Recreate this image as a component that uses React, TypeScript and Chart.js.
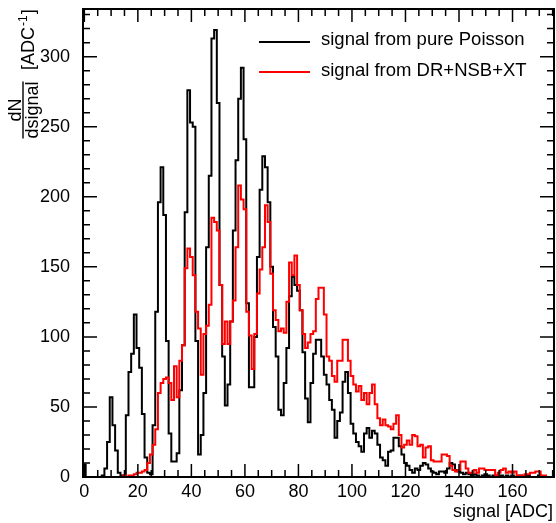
import React, { useEffect, useRef } from "react";
import { Chart, registerables } from "chart.js";

Chart.register(...registerables);

// ---- axis ranges & ticks ----
const X_MIN = -0.5;
const X_MAX = 175.5;
const Y_MIN = 0;
const Y_MAX = 334;
const xTickValues = [0, 20, 40, 60, 80, 100, 120, 140, 160];
const yTickValues = [0, 50, 100, 150, 200, 250, 300];

// ---- series labels ----
const seriesPoisson = "signal from pure Poisson";
const seriesFull = "signal from DR+NSB+XT";
const xTitle = "signal [ADC]";

// ---- histogram contents, one value per 1-ADC bin (bin k centred on k) ----
const poissonCounts = [
  9, 0, 0, 0, 0, 0, 0, 1, 6, 25, 57, 37, 19, 3, 1, 0, 44, 75, 88, 116,
  92, 78, 45, 14, 3, 2, 37, 118, 196, 221, 187, 97, 31, 11, 11, 17, 62, 94, 189, 276,
  253, 250, 97, 16, 30, 60, 164, 215, 313, 319, 267, 137, 86, 51, 66, 111, 176, 226, 270, 292,
  241, 124, 64, 64, 100, 157, 205, 229, 221, 196, 150, 107, 86, 48, 44, 67, 92, 129, 143, 137,
  133, 119, 89, 56, 39, 67, 88, 98, 98, 86, 73, 66, 55, 48, 28, 40, 46, 68, 75, 60,
  38, 31, 25, 22, 18, 31, 35, 28, 33, 31, 23, 14, 12, 8, 18, 19, 28, 28, 22, 16,
  10, 8, 5, 3, 6, 5, 8, 10, 9, 6, 4, 3, 2, 4, 4, 3, 6, 10, 9, 5,
  4, 3, 2, 3, 2, 1, 2, 1, 0, 1, 2, 1, 0, 1, 1, 0, 1, 0, 1, 0,
  1, 0, 0, 1, 0, 0, 1, 0, 0, 0, 1, 0, 0, 0, 0, 0,
];

const fullCounts = [
  0, 0, 0, 0, 0, 0, 0, 0, 0, 0, 0, 0, 0, 0, 0, 1, 0, 1, 1, 2,
  3, 3, 4, 5, 10, 16, 23, 34, 60, 67, 70, 71, 67, 55, 79, 57, 83, 94, 149, 163,
  157, 144, 118, 106, 73, 102, 108, 123, 185, 182, 176, 137, 95, 111, 95, 111, 126, 164, 208, 198,
  191, 118, 101, 77, 102, 131, 148, 164, 194, 182, 145, 119, 112, 104, 106, 103, 125, 153, 144, 158,
  137, 119, 102, 92, 96, 102, 104, 127, 135, 135, 116, 86, 83, 72, 68, 83, 83, 98, 98, 83,
  72, 66, 61, 65, 55, 60, 52, 60, 66, 52, 42, 37, 41, 37, 36, 34, 38, 44, 30, 21,
  23, 26, 23, 30, 29, 22, 23, 14, 21, 22, 12, 11, 11, 11, 16, 16, 15, 8, 5, 4,
  5, 11, 11, 6, 3, 3, 5, 3, 6, 6, 5, 5, 5, 5, 1, 3, 5, 6, 3, 4,
  3, 4, 1, 1, 1, 2, 2, 3, 3, 4, 4, 1, 1, 0, 0, 0,
];

const FONT = '"Liberation Sans", Arial, Helvetica, sans-serif';

function toSteps(counts: number[]) {
  const pts: { x: number; y: number }[] = [{ x: X_MIN, y: 0 }];
  counts.forEach((c, i) => pts.push({ x: i - 0.5, y: c }));
  pts.push({ x: counts.length - 0.5, y: 0 });
  return pts;
}

const rootStylePlugin = {
  id: "rootStyle",
  afterDraw(chart: any) {
    const { ctx, chartArea: a, scales } = chart;
    const xs = scales.x;
    const ys = scales.y;
    ctx.save();
    ctx.strokeStyle = "#000";
    ctx.fillStyle = "#000";

    // inward ticks on all four sides
    ctx.lineWidth = 1.5;
    ctx.beginPath();
    for (let v = 0; v <= X_MAX; v += 5) {
      const px = xs.getPixelForValue(v);
      const len = v % 20 === 0 ? 13 : 7;
      ctx.moveTo(px, a.bottom);
      ctx.lineTo(px, a.bottom - len);
      ctx.moveTo(px, a.top);
      ctx.lineTo(px, a.top + len);
    }
    for (let v = 0; v <= Y_MAX; v += 10) {
      const py = ys.getPixelForValue(v);
      const len = v % 50 === 0 ? 14 : 7;
      ctx.moveTo(a.left, py);
      ctx.lineTo(a.left + len, py);
      ctx.moveTo(a.right, py);
      ctx.lineTo(a.right - len, py);
    }
    ctx.stroke();

    // frame
    ctx.lineWidth = 2;
    ctx.strokeRect(a.left, a.top, a.right - a.left, a.bottom - a.top);

    // x title (right aligned)
    ctx.font = `18px ${FONT}`;
    ctx.textAlign = "right";
    ctx.textBaseline = "alphabetic";
    ctx.fillText(xTitle, a.right - 1, 517);

    // y title: dN/dsignal [ADC^-1], rotated
    ctx.save();
    ctx.translate(23, 110);
    ctx.rotate(-Math.PI / 2);
    ctx.font = `18px ${FONT}`;
    ctx.textAlign = "center";
    ctx.fillText("dN", 0, -2);
    ctx.fillText("dsignal", 0, 15);
    const w = ctx.measureText("dsignal").width;
    ctx.fillRect(-w / 2, -0.7, w, 1.4);
    ctx.textAlign = "left";
    let u = 40;
    ctx.fillText("[ADC", u, 11);
    u += ctx.measureText("[ADC").width;
    ctx.font = `12px ${FONT}`;
    ctx.fillText("-1", u + 1, 4);
    u += ctx.measureText("-1").width + 2;
    ctx.font = `18px ${FONT}`;
    ctx.fillText("]", u, 11);
    ctx.restore();

    // legend
    ctx.lineWidth = 2;
    ctx.strokeStyle = "#000";
    ctx.beginPath();
    ctx.moveTo(259, 42);
    ctx.lineTo(310, 42);
    ctx.stroke();
    ctx.strokeStyle = "#ff0000";
    ctx.beginPath();
    ctx.moveTo(259, 72);
    ctx.lineTo(310, 72);
    ctx.stroke();
    ctx.font = `18.5px ${FONT}`;
    ctx.textAlign = "left";
    ctx.textBaseline = "middle";
    ctx.fillStyle = "#000";
    ctx.fillText(seriesPoisson, 321, 40);
    ctx.fillText(seriesFull, 321, 71);
    ctx.restore();
  },
};

export default function App() {
  const ref = useRef<HTMLCanvasElement>(null);
  useEffect(() => {
    document.body.style.margin = "0";
    const canvas = ref.current;
    if (!canvas) return;
    const chart = new Chart(canvas, {
      type: "line",
      data: {
        datasets: [
          {
            label: seriesFull,
            data: toSteps(fullCounts),
            borderColor: "#ff0000",
            borderWidth: 2,
            stepped: "before",
            pointRadius: 0,
            fill: false,
          },
          {
            label: seriesPoisson,
            data: toSteps(poissonCounts),
            borderColor: "#000000",
            borderWidth: 2,
            stepped: "before",
            pointRadius: 0,
            fill: false,
          },
        ],
      },
      options: {
        responsive: false,
        devicePixelRatio: 1,
        animation: false,
        events: [],
        layout: { padding: { top: 9, right: 2, left: 0, bottom: 0 } },
        plugins: {
          legend: { display: false },
          tooltip: { enabled: false },
          title: { display: false },
        },
        scales: {
          x: {
            type: "linear",
            min: X_MIN,
            max: X_MAX,
            grid: { display: false },
            border: { display: false },
            afterBuildTicks: (s: any) => {
              s.ticks = xTickValues.map((v) => ({ value: v }));
            },
            afterFit: (s: any) => {
              s.height = 46;
              s.paddingLeft = 0;
              s.paddingRight = 0;
            },
            ticks: {
              autoSkip: false,
              maxRotation: 0,
              padding: -4,
              color: "#000",
              font: { family: FONT, size: 18 },
              callback: (v: any) => String(v),
            },
          },
          y: {
            type: "linear",
            min: Y_MIN,
            max: Y_MAX,
            grid: { display: false },
            border: { display: false },
            afterBuildTicks: (s: any) => {
              s.ticks = yTickValues.map((v) => ({ value: v }));
            },
            afterFit: (s: any) => {
              s.width = 83;
              s.paddingTop = 0;
              s.paddingBottom = 0;
            },
            ticks: {
              autoSkip: false,
              padding: 5,
              color: "#000",
              font: { family: FONT, size: 18 },
              callback: (v: any) => String(v),
            },
          },
        },
      },
      plugins: [rootStylePlugin],
    });
    return () => chart.destroy();
  }, []);
  return (
    <div style={{ width: 556, height: 523 }}>
      <canvas
        ref={ref}
        width={556}
        height={523}
        style={{ display: "block", width: 556, height: 523 }}
      />
    </div>
  );
}
